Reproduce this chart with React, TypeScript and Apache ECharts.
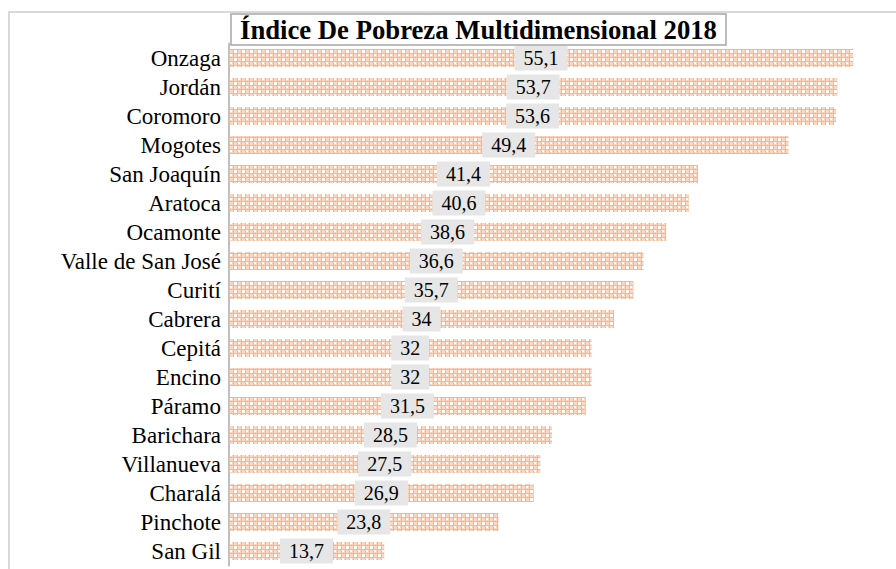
import React, { useEffect, useRef } from "react";
import * as echarts from "echarts";

const categories = [
  "Onzaga", "Jordán", "Coromoro", "Mogotes", "San Joaquín", "Aratoca", "Ocamonte",
  "Valle de San José", "Curití", "Cabrera", "Cepitá", "Encino", "Páramo",
  "Barichara", "Villanueva", "Charalá", "Pinchote", "San Gil",
];
const values = [55.1, 53.7, 53.6, 49.4, 41.4, 40.6, 38.6, 36.6, 35.7, 34, 32, 32, 31.5, 28.5, 27.5, 26.9, 23.8, 13.7];
const titleText = "Índice De Pobreza Multidimensional 2018";

function makePattern() {
  const c = document.createElement("canvas");
  c.width = 8;
  c.height = 8;
  const ctx = c.getContext("2d")!;
  ctx.fillStyle = "#fbd8bf";
  ctx.fillRect(0, 0, 8, 8);
  ctx.fillStyle = "#f6b78c";
  ctx.fillRect(0, 1, 8, 1);
  ctx.fillRect(0, 5, 8, 1);
  ctx.fillRect(1, 0, 1, 8);
  ctx.fillRect(5, 0, 1, 8);
  ctx.fillStyle = "#ffffff";
  ctx.fillRect(2, 2, 3, 3);
  ctx.fillRect(6, 6, 2, 2);
  return c;
}

export default function App() {
  const ref = useRef<HTMLDivElement>(null);
  useEffect(() => {
    const chart = echarts.init(ref.current!, null, { renderer: "svg" });
    const pat = makePattern();
    const font = "Liberation Serif";
    chart.setOption({
      animation: false,
      backgroundColor: "#fff",
      title: {
        text: titleText,
        left: 231,
        top: 14,
        padding: [2, 9, 2, 9],
        backgroundColor: "#fff",
        borderColor: "#a6a6a6",
        borderWidth: 1.5,
        z: 10,
        textStyle: { fontFamily: font, fontSize: 26.7, fontWeight: "bold", color: "#000", lineHeight: 27 },
      },
      graphic: [
        {
          type: "rect",
          z: -10,
          silent: true,
          shape: { x: 9, y: 12, width: 900, height: 600 },
          style: { fill: "none", stroke: "#d9d9d9", lineWidth: 2 },
        },
      ],
      grid: { left: 229, right: 10, top: 43.5, height: 522 },
      xAxis: {
        type: "value",
        min: 0,
        max: 58,
        show: false,
      },
      yAxis: {
        type: "category",
        data: categories,
        inverse: true,
        axisLine: { lineStyle: { color: "#bfbfbf", width: 2 } },
        axisTick: { show: false },
        axisLabel: { interval: 0, fontFamily: font, fontSize: 23, color: "#000", margin: 8 },
      },
      series: [
        {
          type: "bar",
          data: values,
          barWidth: 18,
          itemStyle: {
            color: { image: pat, repeat: "repeat", imageWidth: 8, imageHeight: 8 } as any,
          },
          label: {
            show: true,
            position: "inside",
            fontFamily: font,
            fontSize: 20,
            color: "#000",
            backgroundColor: "#e6e6e6",
            padding: [3, 9, 2, 9],
            formatter: (p: any) => String(p.value).replace(".", ","),
          },
        },
      ],
    });
    return () => chart.dispose();
  }, []);
  return (
    <div
      ref={ref}
      style={{ position: "fixed", left: 0, top: 0, width: 896, height: 569 }}
    />
  );
}
